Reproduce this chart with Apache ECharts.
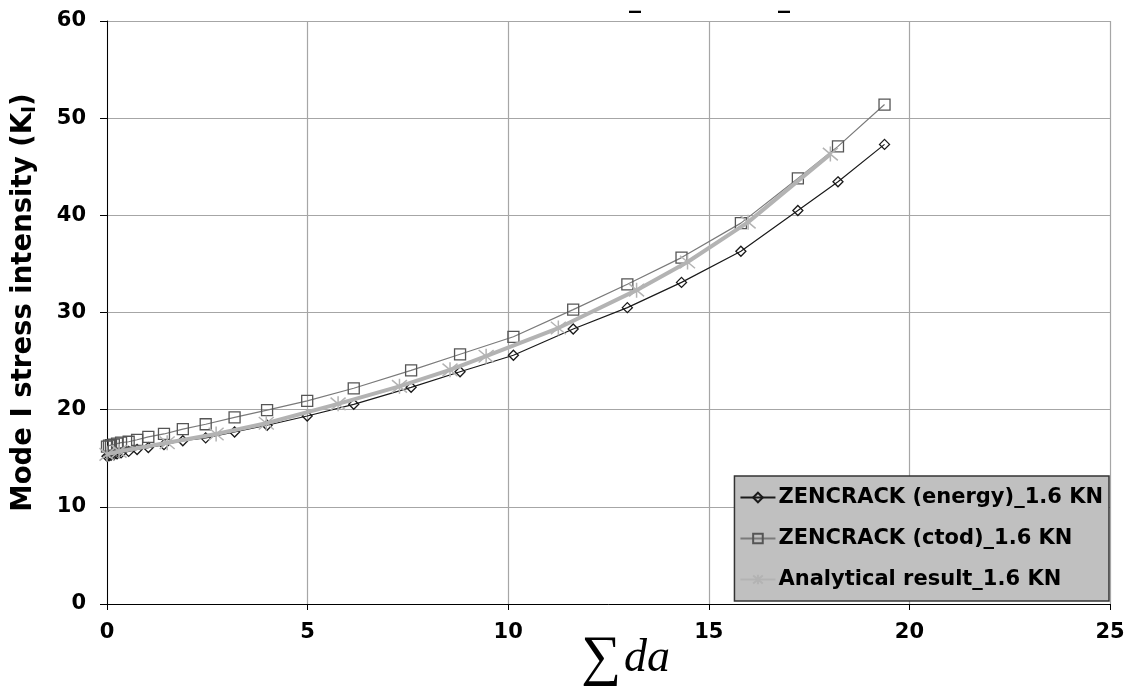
<!DOCTYPE html>
<html>
<head>
<meta charset="utf-8">
<script src="https://cdn.jsdelivr.net/npm/echarts@6/dist/echarts.min.js"></script>
<style>html,body{margin:0;padding:0;background:#fff;}#c{width:1132px;height:692px;}</style>
</head>
<body>
<div id="c"></div>
<script>
// Shared crack-growth x values for ZENCRACK series
const zenX = [0, 0.05, 0.1, 0.17, 0.25, 0.35, 0.54, 0.75, 1.03, 1.42, 1.89, 2.46, 3.18, 3.99, 4.99, 6.15, 7.58, 8.8, 10.13, 11.62, 12.97, 14.32, 15.8, 17.22, 18.22, 19.38];
const energyK = [15.2, 15.25, 15.3, 15.35, 15.45, 15.55, 15.7, 15.9, 16.1, 16.4, 16.8, 17.1, 17.7, 18.4, 19.35, 20.55, 22.3, 23.9, 25.6, 28.3, 30.5, 33.1, 36.3, 40.5, 43.45, 47.3];
const ctodK = [16.2, 16.3, 16.35, 16.4, 16.5, 16.6, 16.7, 16.9, 17.2, 17.5, 18.0, 18.5, 19.2, 19.96, 20.9, 22.2, 24.05, 25.7, 27.5, 30.3, 32.9, 35.65, 39.2, 43.8, 47.1, 51.4];
const anaX = [0, 0.3, 1.5, 2.72, 3.97, 5.76, 7.29, 8.55, 9.45, 11.25, 13.2, 14.47, 15.98, 18.03];
const anaK = [15.4, 15.7, 16.6, 17.5, 18.6, 20.6, 22.4, 24.1, 25.5, 28.4, 32.3, 35.2, 39.3, 46.3];
const seriesNames = ['ZENCRACK (energy)_1.6 KN', 'ZENCRACK (ctod)_1.6 KN', 'Analytical result_1.6 KN'];
const xTicks = { min: 0, max: 25, interval: 5 };
const yTicks = { min: 0, max: 60, interval: 10 };

const pair = (xs, ys) => xs.map((x, i) => [x, ys[i]]);
const asterisk = 'path://M0,0L10,10M10,0L0,10M5,-1L5,11';
const FONT = '"DejaVu Sans", "Liberation Sans", Arial, sans-serif';
const SERIF = '"Liberation Serif", "DejaVu Serif", serif';

const chart = echarts.init(document.getElementById('c'), null, { renderer: 'canvas', width: 1132, height: 692 });
chart.setOption({
  animation: false,
  backgroundColor: '#ffffff',
  grid: { left: 107, right: 22, top: 21, bottom: 88, containLabel: false, outerBoundsMode: 'none' },
  graphic: [
    { type: 'text', left: 629, top: -11, style: { text: '_', font: 'bold 24px ' + FONT, fill: '#000' } },
    { type: 'text', left: 778, top: -11, style: { text: '_', font: 'bold 24px ' + FONT, fill: '#000' } }
  ],
  legend: {
    orient: 'vertical',
    right: 23,
    bottom: 91,
    backgroundColor: '#c0c0c0',
    borderColor: '#333',
    borderWidth: 1.5,
    borderRadius: 0,
    padding: [11, 6, 11, 5],
    itemGap: 20,
    itemWidth: 35,
    itemHeight: 12,
    textStyle: { fontFamily: FONT, fontWeight: 'bold', fontSize: 21, color: '#000', padding: [0, 0, 0, -2] },
    data: seriesNames
  },
  xAxis: {
    type: 'value',
    min: xTicks.min, max: xTicks.max, interval: xTicks.interval,
    name: '{s|∑}{d|da}',
    nameLocation: 'middle',
    nameGap: 27,
    nameMoveOverlap: false,
    nameTextStyle: {
      padding: [0, 0, 0, 34],
      rich: {
        s: { fontFamily: SERIF, fontSize: 56, color: '#000', padding: [0, 3, 0, 0] },
        d: { fontFamily: SERIF, fontStyle: 'italic', fontSize: 46, color: '#000' }
      }
    },
    axisLine: { lineStyle: { color: '#000', width: 1 } },
    axisTick: { show: true, length: 6, lineStyle: { color: '#000' } },
    axisLabel: { fontFamily: FONT, fontWeight: 'bold', fontSize: 21, color: '#000', margin: 18 },
    splitLine: { show: true, lineStyle: { color: '#a6a6a6', width: 1.2 } }
  },
  yAxis: {
    type: 'value',
    min: yTicks.min, max: yTicks.max, interval: yTicks.interval,
    name: '{n|Mode I stress intensity (K}{sub|I}{n|)}',
    nameLocation: 'middle',
    nameGap: 67,
    nameRotate: 90,
    nameMoveOverlap: false,
    nameTextStyle: {
      padding: [0, 0, 0, 20],
      rich: {
        n: { fontFamily: FONT, fontWeight: 'bold', fontSize: 27.5, color: '#000' },
        sub: { fontFamily: FONT, fontWeight: 'bold', fontSize: 19, color: '#000', padding: [14, 0, 0, 0] }
      }
    },
    axisLine: { show: true, lineStyle: { color: '#000', width: 1 } },
    axisTick: { show: true, length: 7, lineStyle: { color: '#000' } },
    axisLabel: { fontFamily: FONT, fontWeight: 'bold', fontSize: 21, color: '#000', margin: 21 },
    splitLine: { show: true, lineStyle: { color: '#a6a6a6', width: 1.2 } }
  },
  series: [
    {
      name: seriesNames[0], type: 'line', data: pair(zenX, energyK),
      symbol: 'diamond', symbolSize: 10,
      lineStyle: { color: '#1a1a1a', width: 1.2 },
      itemStyle: { color: 'rgba(0,0,0,0)', borderColor: '#1a1a1a', borderWidth: 1.3 },
      z: 2
    },
    {
      name: seriesNames[1], type: 'line', data: pair(zenX, ctodK),
      symbol: 'rect', symbolSize: 11,
      lineStyle: { color: '#7a7a7a', width: 1.2 },
      itemStyle: { color: 'rgba(0,0,0,0)', borderColor: '#555', borderWidth: 1.3 },
      z: 3
    },
    {
      name: seriesNames[2], type: 'line', data: pair(anaX, anaK),
      symbol: asterisk, symbolSize: 15,
      lineStyle: { color: '#b3b3b3', width: 4 },
      itemStyle: { color: 'rgba(0,0,0,0)', borderColor: '#b3b3b3', borderWidth: 1.5 },
      z: 4
    }
  ]
});
</script>
</body>
</html>
